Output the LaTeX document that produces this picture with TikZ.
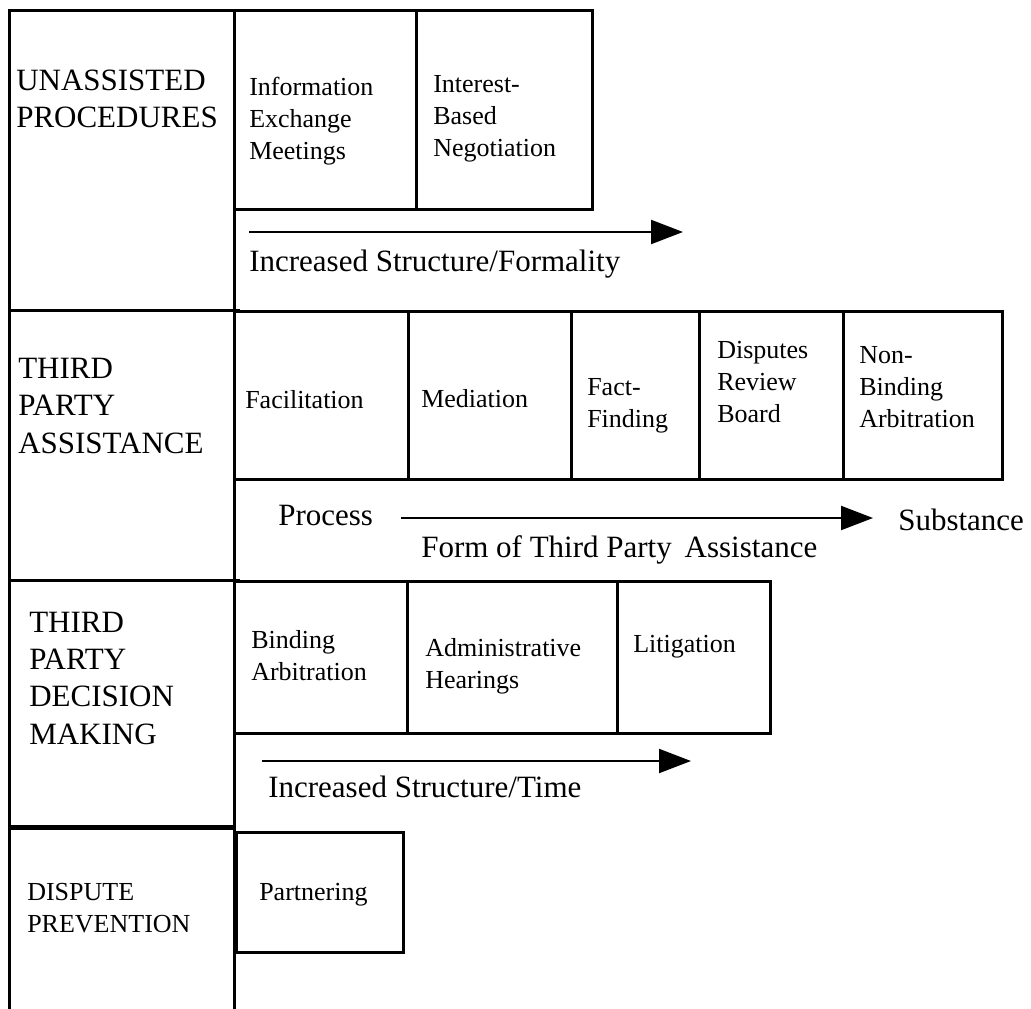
\documentclass[tikz,border=0pt]{standalone}
\usepackage{fontspec}
\setmainfont{Liberation Serif}
\usetikzlibrary{arrows.meta}
\begin{document}
\begin{tikzpicture}[x=0.75pt,y=-0.75pt,
  rule/.style={line width=2.25pt},
  thickrule/.style={line width=3.75pt},
  cell/.style={line width=2.25pt},
  flow/.style={line width=1.6pt,-{Triangle[length=24pt,width=18pt]}},
  big/.style={anchor=base west,inner sep=0pt,align=left,font=\fontsize{23.25}{28}\selectfont},
  small/.style={anchor=base west,inner sep=0pt,align=left,font=\fontsize{19.5}{24}\selectfont}]
\useasboundingbox (0,0) rectangle (1031,1009);

% left column
\draw[rule] (9,1009) -- (9,11) -- (234,11);
\draw[rule] (234,11) -- (234,1009);
\draw[rule] (9,310) -- (240,310);
\draw[rule] (9,580) -- (240,580);
\draw[thickrule] (9,827) -- (235,827);

% section 1 cells
\draw[cell] (234,11) rectangle (416,210);
\draw[cell] (416,11) rectangle (592,210);
% section 2 cells
\draw[cell] (234,311) rectangle (408,479);
\draw[cell] (408,311) rectangle (571,479);
\draw[cell] (571,311) rectangle (699,479);
\draw[cell] (699,311) rectangle (843,479);
\draw[cell] (843,311) rectangle (1002,479);
% section 3 cells
\draw[cell] (234,581) rectangle (407,733);
\draw[cell] (407,581) rectangle (617,733);
\draw[cell] (617,581) rectangle (770,733);
% section 4 cell
\draw[cell] (236,832) rectangle (403,952);

% labels of the left column (anchor: baseline of the last line)
\node[big] (lab1) at (16,128) {UNASSISTED\\PROCEDURES};
\node[big] (lab2) at (18,453) {THIRD\\PARTY\\ASSISTANCE};
\node[big] (lab3) at (29,744) {THIRD\\PARTY\\DECISION\\MAKING};
\node[small] (lab4) at (27,932) {DISPUTE\\PREVENTION};

% cell texts
\node[small] (t11) at (249,160) {Information\\Exchange\\Meetings};
\node[small] (t12) at (433,157) {Interest-\\Based\\Negotiation};
\node[small] (t21) at (245,408) {Facilitation};
\node[small] (t22) at (421,407) {Mediation};
\node[small] (t23) at (587,427) {Fact-\\Finding};
\node[small] (t24) at (717,422) {Disputes\\Review\\Board};
\node[small] (t25) at (859,427) {Non-\\Binding\\Arbitration};
\node[small] (t31) at (251,680) {Binding\\Arbitration};
\node[small] (t32) at (425,688) {Administrative\\Hearings};
\node[small] (t33) at (633,652) {Litigation};
\node[small] (t41) at (259,900) {Partnering};

% arrows and their captions
\coordinate (a1s) at (249,232);
\coordinate (a1e) at (683,232);
\draw[flow] (a1s) -- (a1e);
\node[big] (c1) at (249,272) {Increased Structure/Formality};

\node[big] (proc) at (278,525) {Process};
\coordinate (a2s) at (401,518);
\coordinate (a2e) at (873,518);
\draw[flow] (a2s) -- (a2e);
\node[big] (subs) at (898,530) {Substance};
\node[big] (c2) at (421,557) {Form of Third Party\ \,Assistance};

\coordinate (a3s) at (262,761);
\coordinate (a3e) at (691,761);
\draw[flow] (a3s) -- (a3e);
\node[big] (c3) at (268,797) {Increased Structure/Time};
\end{tikzpicture}
\end{document}
